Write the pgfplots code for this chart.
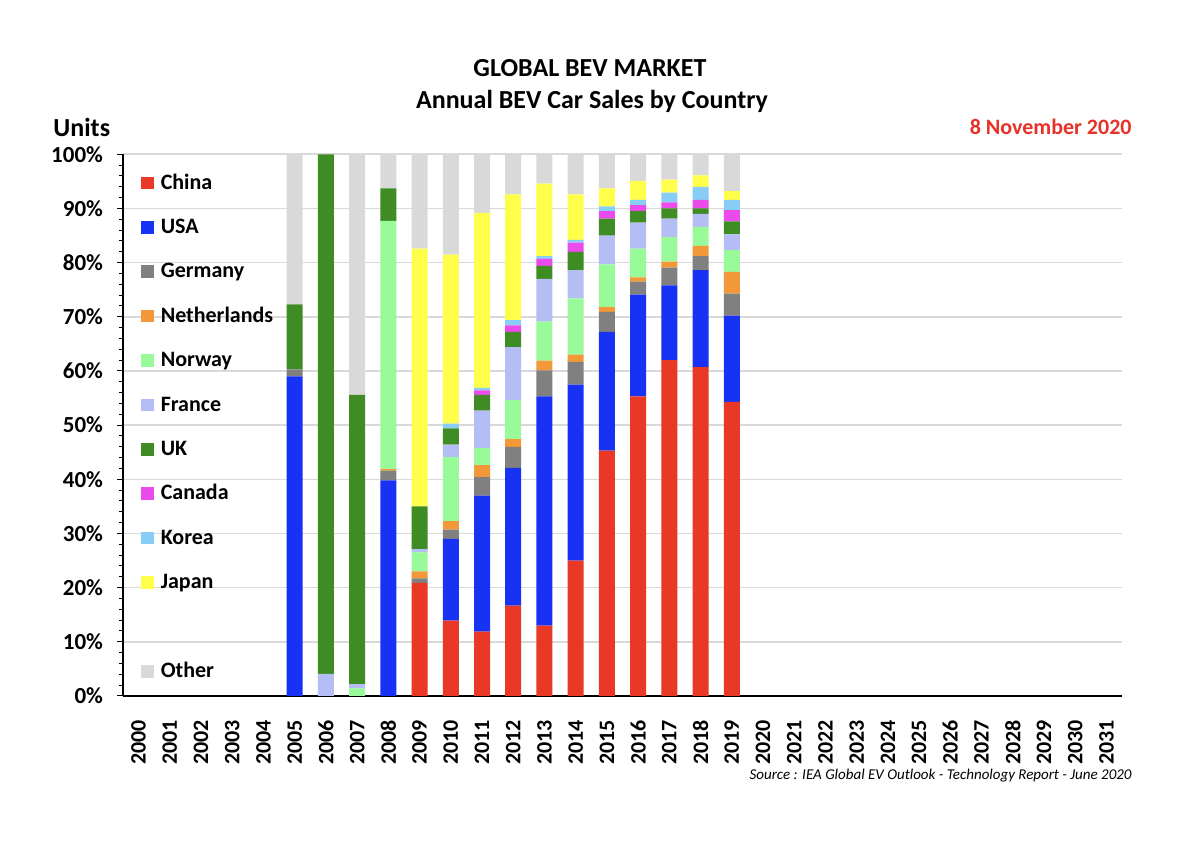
\documentclass[border=0pt]{standalone}
\usepackage{fontspec}
\setmainfont{Carlito}
\usepackage{pgfplots}
\usepackage{pgfplotstable}
\pgfplotsset{compat=1.18}
\definecolor{cChina}{RGB}{233,56,38}
\definecolor{cUSA}{RGB}{24,50,245}
\definecolor{cGermany}{RGB}{128,128,128}
\definecolor{cNeth}{RGB}{242,152,56}
\definecolor{cNorway}{RGB}{153,250,153}
\definecolor{cFrance}{RGB}{180,190,245}
\definecolor{cUK}{RGB}{62,140,35}
\definecolor{cCanada}{RGB}{235,75,235}
\definecolor{cKorea}{RGB}{135,205,245}
\definecolor{cJapan}{RGB}{255,255,75}
\definecolor{cOther}{RGB}{217,217,217}
\definecolor{cDate}{RGB}{230,50,40}
\pgfplotstableread{
idx China USA Germany Netherlands Norway France UK Canada Korea Japan Other
5  0    59.0 1.3 0   0    0   12.0 0   0   0    27.7
6  0    0    0   0   0    4.1 95.9 0   0   0    0
7  0    0    0   0   1.4  0.8 53.4 0   0   0    44.4
8  0    39.8 1.8 0.3 45.8 0   6.0  0   0   0    6.3
9  20.9 0    0.8 1.3 3.5  0.6 7.9  0   0   47.6 17.4
10 13.9 15.1 1.7 1.6 11.8 2.3 3.0  0   0.9 31.2 18.5
11 11.9 25.1 3.4 2.2 3.2  6.9 2.9  0.8 0.5 32.3 10.8
12 16.7 25.4 3.9 1.4 7.2  9.8 2.8  1.2 1.0 23.2 7.4
13 13.0 42.3 4.8 1.8 7.2  7.9 2.4  1.3 0.5 13.4 5.4
14 25.0 32.5 4.2 1.3 10.4 5.2 3.4  1.7 0.5 8.4  7.4
15 45.3 21.9 3.7 0.9 7.9  5.3 3.1  1.4 0.9 3.3  6.3
16 55.3 18.8 2.4 0.8 5.3  4.8 2.1  1.1 1.0 3.5  4.9
17 62.0 13.8 3.3 1.1 4.5  3.4 1.9  1.1 1.8 2.4  4.7
18 60.7 17.9 2.6 1.9 3.5  2.4 1.0  1.6 2.4 2.1  3.9
19 54.3 15.9 4.1 4.0 4.0  2.9 2.4  2.1 1.9 1.6  6.8
}\data
\begin{document}
\begin{tikzpicture}
\useasboundingbox (0,0) rectangle (600pt,424.5pt);
\fill[white] (0,0) rectangle (600pt,424.5pt);
\begin{axis}[
  at={(61.5pt,76.5pt)}, anchor=south west,
  scale only axis, width=499.5pt, height=270.85pt,
  ybar stacked, bar width=8pt,
  xmin=-0.5, xmax=31.5, ymin=0, ymax=100,
  axis x line=bottom, axis y line=left,
  axis line style={-, line width=0.8pt, black},
  xtick={0,...,31},
  xticklabels={2000,2001,2002,2003,2004,2005,2006,2007,2008,2009,2010,2011,2012,2013,2014,2015,2016,2017,2018,2019,2020,2021,2022,2023,2024,2025,2026,2027,2028,2029,2030,2031},
  x tick style={draw=none},
  xticklabel style={font=\bfseries\fontsize{11}{13}\selectfont, yshift=-5.5pt, rotate=90, anchor=east},
  ytick={0,10,...,100},
  yticklabels={0\%,10\%,20\%,30\%,40\%,50\%,60\%,70\%,80\%,90\%,100\%},
  minor y tick num=4,
  tick align=outside,
  major tick length=3pt, minor tick length=2pt,
  y tick style={black, line width=0.5pt},
  yticklabel style={font=\bfseries\fontsize{11.5}{13}\selectfont, xshift=-3.5pt},
  ymajorgrids, grid style={line width=0.8pt, color=cOther},
  legend image code/.code={\fill[#1] (0pt,-2.8pt) rectangle (6.35pt,3.55pt);},
  legend style={at={(0.018,0.966)}, anchor=north west, draw=none, fill=none,
    inner sep=0pt, row sep=11.7pt, column sep=3.35pt,
    nodes={inner sep=0pt, text height=8pt, text depth=2.5pt, font=\bfseries\fontsize{11}{13}\selectfont}},
  legend cell align=left,
]
\addplot[fill=cChina, draw=none] table[x=idx, y=China] {\data}; \addlegendentry{China}
\addplot[fill=cUSA, draw=none] table[x=idx, y=USA] {\data}; \addlegendentry{USA}
\addplot[fill=cGermany, draw=none] table[x=idx, y=Germany] {\data}; \addlegendentry{Germany}
\addplot[fill=cNeth, draw=none] table[x=idx, y=Netherlands] {\data}; \addlegendentry{Netherlands}
\addplot[fill=cNorway, draw=none] table[x=idx, y=Norway] {\data}; \addlegendentry{Norway}
\addplot[fill=cFrance, draw=none] table[x=idx, y=France] {\data}; \addlegendentry{France}
\addplot[fill=cUK, draw=none] table[x=idx, y=UK] {\data}; \addlegendentry{UK}
\addplot[fill=cCanada, draw=none] table[x=idx, y=Canada] {\data}; \addlegendentry{Canada}
\addplot[fill=cKorea, draw=none] table[x=idx, y=Korea] {\data}; \addlegendentry{Korea}
\addplot[fill=cJapan, draw=none] table[x=idx, y=Japan] {\data}; \addlegendentry{Japan}
\addlegendimage{empty legend}\addlegendentry{}
\addplot[fill=cOther, draw=none] table[x=idx, y=Other] {\data}; \addlegendentry{Other}
\end{axis}
\node[anchor=base, font=\bfseries\fontsize{13}{15}\selectfont] at (295pt,386.25pt) {GLOBAL BEV MARKET};
\node[anchor=base, font=\bfseries\fontsize{13}{15}\selectfont] at (296pt,370.25pt) {Annual BEV Car Sales by Country};
\node[anchor=base west, inner sep=0pt, font=\bfseries\fontsize{13}{15}\selectfont] at (26.5pt,356pt) {Units};
\node[anchor=base east, inner sep=0pt, text=cDate, font=\bfseries\fontsize{11}{13}\selectfont] at (566pt,357pt) {8 November 2020};
\node[anchor=base east, inner sep=0pt, font=\itshape\fontsize{7.5}{9}\selectfont] at (566pt,34.5pt) {Source : IEA Global EV Outlook - Technology Report - June 2020};
\end{tikzpicture}
\end{document}
